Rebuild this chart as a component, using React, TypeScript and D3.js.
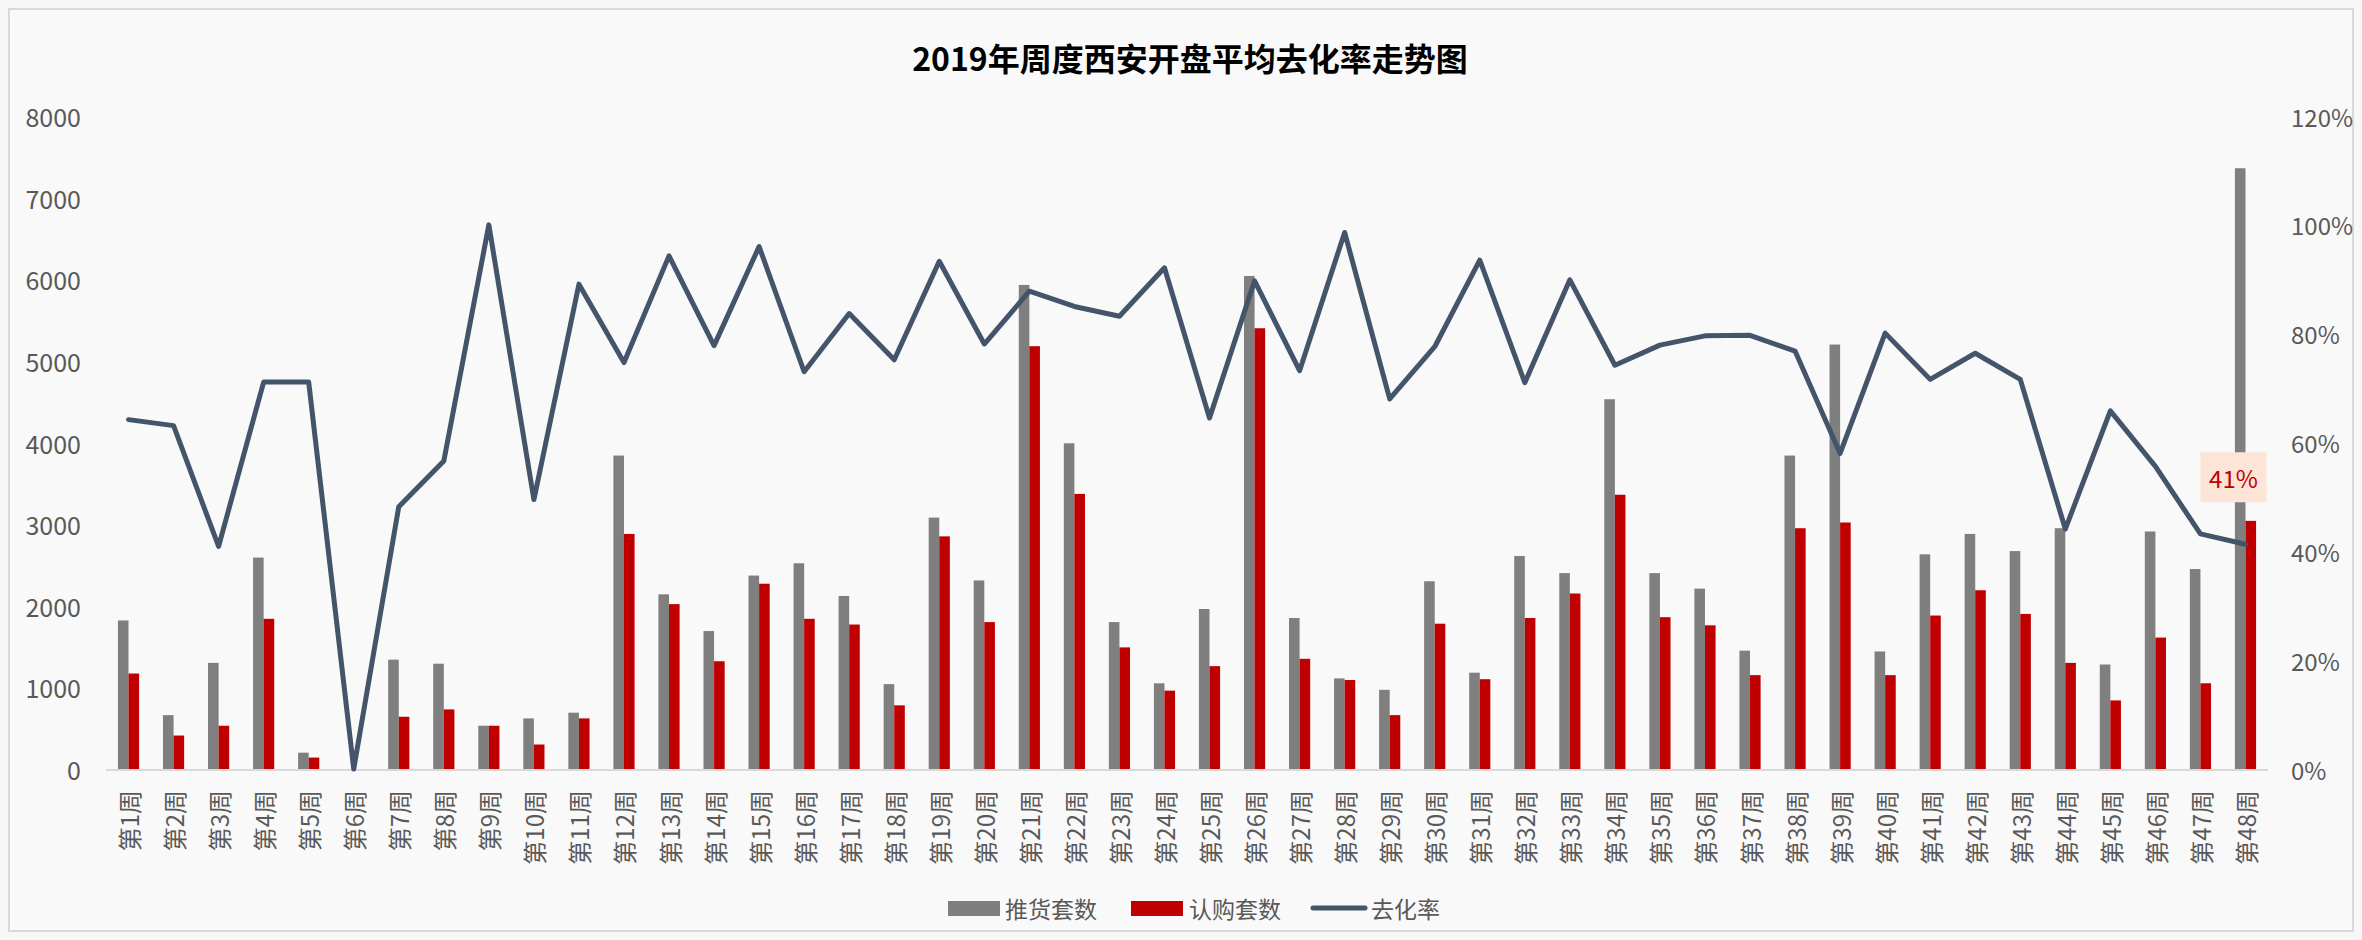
import React, { useEffect } from 'react';
import * as d3 from 'd3';

const weeks = [
  '第1周', '第2周', '第3周', '第4周', '第5周', '第6周', '第7周', '第8周', '第9周', '第10周',
  '第11周', '第12周', '第13周', '第14周', '第15周', '第16周', '第17周', '第18周', '第19周', '第20周',
  '第21周', '第22周', '第23周', '第24周', '第25周', '第26周', '第27周', '第28周', '第29周', '第30周',
  '第31周', '第32周', '第33周', '第34周', '第35周', '第36周', '第37周', '第38周', '第39周', '第40周',
  '第41周', '第42周', '第43周', '第44周', '第45周', '第46周', '第47周', '第48周',
];

// 推货套数
const supply = [
  1820, 660, 1300, 2590, 200, 0, 1340, 1290, 530, 620,
  690, 3840, 2140, 1690, 2370, 2520, 2120, 1040, 3080, 2310,
  5930, 3990, 1800, 1050, 1960, 6040, 1850, 1110, 970, 2300,
  1180, 2610, 2400, 4530, 2400, 2210, 1450, 3840, 5200, 1440,
  2630, 2880, 2670, 2950, 1280, 2910, 2450, 7360,
];

// 认购套数
const sold = [
  1170, 410, 530, 1840, 140, 0, 640, 730, 530, 300,
  620, 2880, 2020, 1320, 2270, 1840, 1770, 780, 2850, 1800,
  5180, 3370, 1490, 960, 1260, 5400, 1350, 1090, 660, 1780,
  1100, 1850, 2150, 3360, 1860, 1760, 1150, 2950, 3020, 1150,
  1880, 2190, 1900, 1300, 840, 1610, 1050, 3040,
];

// 去化率 (%)
const rate = [
  64.2, 63.1, 40.9, 71.1, 71.1, 0, 48.2, 56.6, 100, 49.5,
  89.1, 74.7, 94.3, 77.8, 96, 73, 83.7, 75.2, 93.3, 78.1,
  87.8, 85, 83.2, 92.1, 64.5, 89.7, 73.2, 98.6, 68, 77.6,
  93.5, 71, 89.9, 74.2, 77.9, 79.6, 79.7, 76.8, 58, 80.1,
  71.6, 76.4, 71.6, 44.1, 65.8, 55.6, 43.2, 41.3,
];

const leftTicks = [0, 1000, 2000, 3000, 4000, 5000, 6000, 7000, 8000];
const rightTicks = [0, 20, 40, 60, 80, 100, 120];
const seriesNames = ['推货套数', '认购套数', '去化率'];

const W = 2346;
const H = 924;
const FONT = '"Microsoft YaHei", "Noto Sans CJK SC", "Noto Sans", sans-serif';
const GRAY = '#7f7f7f';
const RED = '#c00000';
const LINE = '#44546a';
const TEXT = '#595959';

export default function App() {
  useEffect(() => {
    document.body.style.background = '#f7f7f7';
  }, []);

  const x = d3.scaleBand<string>().domain(weeks).range([98, 2260]).paddingInner(0.53).paddingOuter(0.265);
  const sub = d3.scaleBand<string>().domain(['supply', 'sold']).range([0, x.bandwidth()]);
  const y = d3.scaleLinear().domain([0, 8000]).range([761, 108]);
  const yR = d3.scaleLinear().domain([0, 120]).range([761, 108]);
  const cx = (i: number) => (x(weeks[i]) as number) + x.bandwidth() / 2;

  const line = d3.line<number>()
    .x((_, i) => cx(i))
    .y(d => yR(d));

  const last = rate.length - 1;
  const lblX = cx(last) - 12;
  const lblY = yR(rate[last]) - 67;

  return (
    <svg width={W} height={H} style={{ display: 'block' }} fontFamily={FONT}>
      <rect x={1} y={1} width={W - 2} height={H - 2} fill="#f9f9f9" stroke="#d9d9d9" strokeWidth={2} />

      <text x={1182} y={49} textAnchor="middle" dominantBaseline="central" fontSize={32} fontWeight="bold" fill="#000">
        2019年周度西安开盘平均去化率走势图
      </text>

      {leftTicks.map(t => (
        <text key={'l' + t} x={73} y={y(t)} textAnchor="end" dominantBaseline="central" fontSize={25} fill={TEXT}>
          {t}
        </text>
      ))}
      {rightTicks.map(t => (
        <text key={'r' + t} x={2283} y={yR(t)} textAnchor="start" dominantBaseline="central" fontSize={24} fill={TEXT}>
          {t + '%'}
        </text>
      ))}

      {weeks.map((w, i) => (
        <g key={w}>
          <rect x={(x(w) as number) + (sub('supply') as number)} y={y(supply[i])} width={sub.bandwidth()} height={y(0) - y(supply[i])} fill={GRAY} />
          <rect x={(x(w) as number) + (sub('sold') as number)} y={y(sold[i])} width={sub.bandwidth()} height={y(0) - y(sold[i])} fill={RED} />
        </g>
      ))}

      <line x1={98} x2={2260} y1={y(0) + 1} y2={y(0) + 1} stroke="#d9d9d9" strokeWidth={2} />

      {weeks.map((w, i) => (
        <text key={'x' + w} transform={`translate(${cx(i)},782) rotate(-90)`} textAnchor="end" dominantBaseline="central" fontSize={24} fill={TEXT}>
          {w}
        </text>
      ))}

      <path d={line(rate) || ''} fill="none" stroke={LINE} strokeWidth={5} strokeLinejoin="round" strokeLinecap="round" />

      <rect x={lblX - 33} y={lblY - 25} width={66} height={50} fill="#fce4d6" />
      <text x={lblX} y={lblY} textAnchor="middle" dominantBaseline="central" fontSize={24} fill={RED}>
        {Math.round(rate[last]) + '%'}
      </text>

      <g fontSize={23} fill={TEXT}>
        <rect x={940} y={893} width={52} height={15} fill={GRAY} />
        <text x={997} y={900} dominantBaseline="central">{seriesNames[0]}</text>
        <rect x={1123} y={893} width={52} height={15} fill={RED} />
        <text x={1181} y={900} dominantBaseline="central">{seriesNames[1]}</text>
        <line x1={1305} x2={1357} y1={900} y2={900} stroke={LINE} strokeWidth={5} strokeLinecap="round" />
        <text x={1363} y={900} dominantBaseline="central">{seriesNames[2]}</text>
      </g>
    </svg>
  );
}
